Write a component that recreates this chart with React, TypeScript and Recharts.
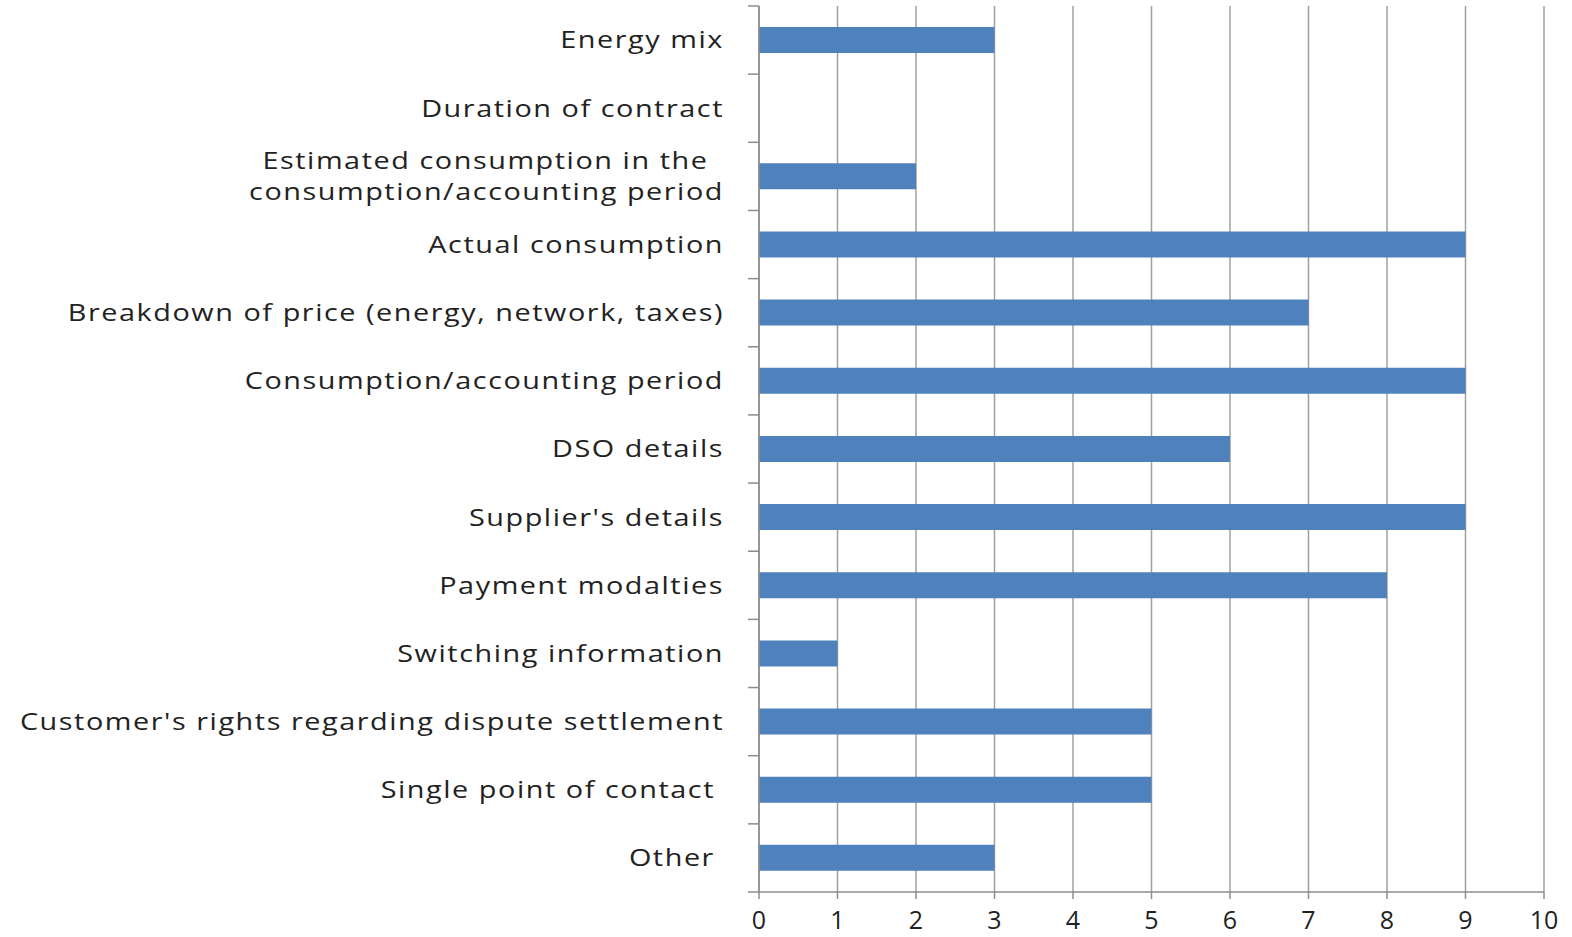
import { BarChart, Bar, XAxis, YAxis, CartesianGrid } from "recharts";

// categories top to bottom, as in the original
const categories = [
  "Energy mix",
  "Duration of contract",
  "Estimated consumption in the\nconsumption/accounting period",
  "Actual consumption",
  "Breakdown of price (energy, network, taxes)",
  "Consumption/accounting period",
  "DSO details",
  "Supplier's details",
  "Payment modalties",
  "Switching information",
  "Customer's rights regarding dispute settlement",
  "Single point of contact ",
  "Other ",
];
const counts = [3, 0, 2, 9, 7, 9, 6, 9, 8, 1, 5, 5, 3];
const xTicks = [0, 1, 2, 3, 4, 5, 6, 7, 8, 9, 10];

const data = categories.map((name, i) => ({ name, value: counts[i] }));

const CHART_W = 1572;
const CHART_H = 937;
const MARGIN = { top: 6, right: 28, bottom: 0, left: 0 };
const X_AXIS_H = 45;
const Y_AXIS_W = 759;
const LABEL_GAP = 35;
const BAND = (CHART_H - MARGIN.top - MARGIN.bottom - X_AXIS_H) / categories.length;

const FONT = "'Open Sans', sans-serif";
const AXIS_COLOR = "#8c8c8c";
const TEXT_COLOR = "#222";

function CategoryTick(props: any) {
  const { x, y, payload } = props;
  const lines = String(payload.value).split("\n");
  const maxLen = Math.max(...lines.map((l) => l.length));
  const axisX = x + LABEL_GAP;
  const isLast = payload.value === categories[categories.length - 1];
  return (
    <g>
      <line x1={axisX - 11} x2={axisX} y1={y - BAND / 2} y2={y - BAND / 2} stroke={AXIS_COLOR} strokeWidth={1.5} />
      {isLast && (
        <line x1={axisX - 11} x2={axisX} y1={y + BAND / 2} y2={y + BAND / 2} stroke={AXIS_COLOR} strokeWidth={1.5} />
      )}
      {/* source text is horizontally stretched, so widen it a bit */}
      <text
        transform={`translate(${x},${y}) scale(1.2,1)`}
        textAnchor="end"
        fontFamily={FONT}
        fontSize={24}
        letterSpacing={1.3}
        fill={TEXT_COLOR}
        style={{ whiteSpace: "pre" }}
      >
        {lines.map((l, i) => (
          <tspan
            key={i}
            x={-(maxLen - l.length) * 13}
            y={(i - (lines.length - 1) / 2) * 31}
            dy="0.35em"
          >
            {l}
          </tspan>
        ))}
      </text>
    </g>
  );
}

export default function App() {
  return (
    <div style={{ width: CHART_W, height: CHART_H, background: "#fff" }}>
      <style>{`body { margin: 0; }`}</style>
      <BarChart width={CHART_W} height={CHART_H} data={data} layout="vertical" margin={MARGIN}>
        <CartesianGrid horizontal={false} stroke="#a0a0a0" strokeWidth={1.5} />
        <XAxis
          type="number"
          domain={[0, 10]}
          ticks={xTicks}
          interval={0}
          height={X_AXIS_H}
          stroke={AXIS_COLOR}
          strokeWidth={1.5}
          tickSize={7}
          tickMargin={12.5}
          tick={{ fill: TEXT_COLOR, fontSize: 25, fontFamily: FONT }}
        />
        <YAxis
          type="category"
          dataKey="name"
          width={Y_AXIS_W}
          stroke={AXIS_COLOR}
          strokeWidth={1.5}
          tickLine={false}
          tickSize={0}
          tickMargin={LABEL_GAP}
          interval={0}
          tick={<CategoryTick />}
        />
        <Bar dataKey="value" fill="#4f81bd" barSize={26} isAnimationActive={false} />
      </BarChart>
    </div>
  );
}
